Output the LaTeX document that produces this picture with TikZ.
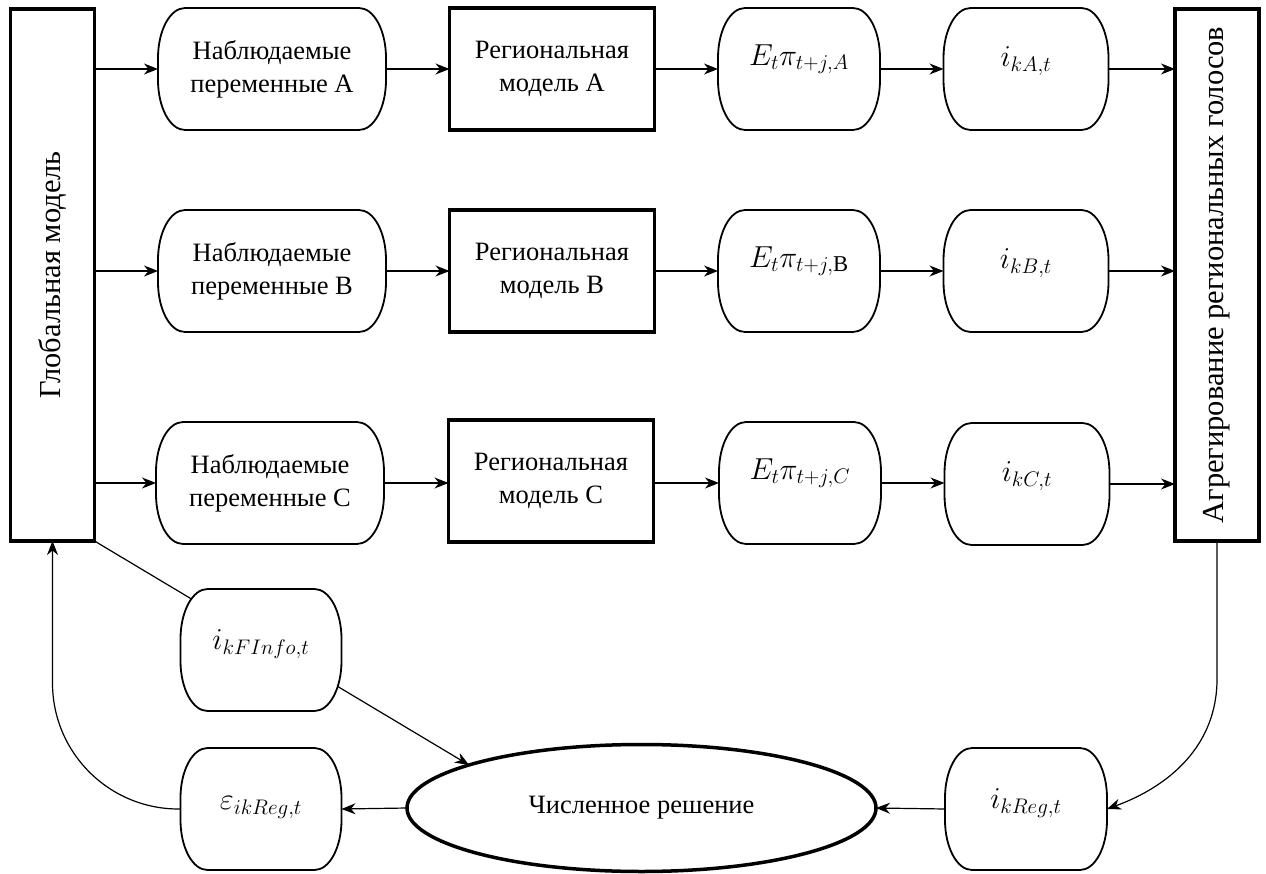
\documentclass[tikz,border=0pt]{standalone}
\usepackage{fontspec}
\setmainfont{Liberation Serif}
\usetikzlibrary{calc,arrows.meta,shapes.geometric}
\pgfdeclarelayer{bg}\pgfdeclarelayer{mid}\pgfsetlayers{bg,mid,main}
\newcommand\CapRx{27pt}
\newcommand\CapRy{50pt}
\newcommand\mymath[2]{\raisebox{#1}{\scalebox{1.22}{$#2$}}}
\newcommand\capsule[1]{%
  \begin{pgfonlayer}{mid}
  \draw[capline] ($(#1.north west)+(\CapRx,0)$) -- ($(#1.north east)+(-\CapRx,0)$)
    arc[start angle=90,end angle=0,x radius=\CapRx,y radius=\CapRy]
    -- ($(#1.south east)+(0,\CapRy)$)
    arc[start angle=0,end angle=-90,x radius=\CapRx,y radius=\CapRy]
    -- ($(#1.south west)+(\CapRx,0)$)
    arc[start angle=270,end angle=180,x radius=\CapRx,y radius=\CapRy]
    -- ($(#1.north west)+(0,-\CapRy)$)
    arc[start angle=180,end angle=90,x radius=\CapRx,y radius=\CapRy] -- cycle;
  \end{pgfonlayer}}
\tikzset{
  txt/.style={font=\fontsize{26.5}{33}\selectfont, align=center, inner sep=0pt, outer sep=0pt},
  rot/.style={font=\fontsize{30.5}{36}\selectfont},
  capline/.style={draw=black, fill=white, line width=1.8pt},
  capnode/.style={txt, minimum height=122pt},
  bigbox/.style={txt, draw, line width=3.5pt, minimum width=84pt, minimum height=532pt},
  regbox/.style={txt, draw, line width=3.5pt, minimum width=205pt, minimum height=122pt},
  solver/.style={txt, ellipse, draw, line width=3.5pt, fill=white, minimum width=469pt, minimum height=127pt},
  arr/.style={line width=1.2pt, -{Stealth[length=14pt,width=11pt,inset=4.5pt]}}
}
\begin{document}
\begin{tikzpicture}[x=1pt,y=-1pt]
\useasboundingbox (0,0) rectangle (1266,874);

% big side boxes
\node[bigbox, rot] (global) at (52.5,275) {\rotatebox{90}{Глобальная модель}};
\node[bigbox, rot] (agg) at (1217,275) {\rotatebox{90}{Агрегирование региональных голосов}};

% row A
\node[capnode, minimum width=228pt] (obsA) at (272,69) {Наблюдаемые\\переменные А};
\node[regbox] (regA) at (552,69) {Региональная\\модель А};
\node[capnode, minimum width=162pt] (EA) at (799,69) {\mymath{28pt}{E_t\pi_{t+j,A}}};
\node[capnode, minimum width=165pt] (iA) at (1026,69) {\mymath{24pt}{i_{kA,t}}};

% row B
\node[capnode, minimum width=228pt] (obsB) at (272,271) {Наблюдаемые\\переменные B};
\node[regbox] (regB) at (552,271) {Региональная\\модель B};
\node[capnode, minimum width=162pt] (EB) at (799,271) {\mymath{28pt}{E_t\pi_{t+j,\mathrm{B}}}};
\node[capnode, minimum width=165pt] (iB) at (1026,271) {\mymath{24pt}{i_{kB,t}}};

% row C
\node[capnode, minimum width=228pt] (obsC) at (270,483) {Наблюдаемые\\переменные С};
\node[regbox] (regC) at (551,481) {Региональная\\модель С};
\node[capnode, minimum width=162pt] (EC) at (800,483) {\mymath{28pt}{E_t\pi_{t+j,C}}};
\node[capnode, minimum width=165pt] (iC) at (1027,484) {\mymath{24pt}{i_{kC,t}}};

% bottom
\node[solver] (solve) at (641.5,808) {Численное решение};
\node[capnode, minimum width=161pt] (info) at (261,650) {\mymath{20pt}{i_{kFInfo,t}}};
\node[capnode, minimum width=161pt] (eps) at (261,809) {\mymath{12pt}{\varepsilon_{ikReg,t}}};
\node[capnode, minimum width=162pt] (ireg) at (1026,809) {\mymath{20pt}{i_{kReg,t}}};

\foreach \n in {obsA,EA,iA,obsB,EB,iB,obsC,EC,iC,info,eps,ireg} {\capsule{\n}}

% row connectors
\foreach \r in {A,B,C} {
  \draw[arr] (global.east |- obs\r.west) -- (obs\r.west);
  \draw[arr] (obs\r.east) -- (obs\r.east -| reg\r.west);
  \draw[arr] (reg\r.east |- E\r.west) -- (E\r.west);
  \draw[arr] (E\r.east) -- (E\r.east -| i\r.west);
  \draw[arr] (i\r.east) -- (i\r.east -| agg.west);
}

% bottom connectors
\begin{pgfonlayer}{bg}
\draw[arr] (global.south east) -- (solve.166);
\end{pgfonlayer}
\draw[arr] (solve.west) -- (eps.east);
\draw[arr] (ireg.west) -- (solve.east);
\draw[arr, rounded corners=126pt] (eps.west) -| (global.south);
\draw[arr] (agg.south) -- ++(0,138) to[out=-90,in=20] (ireg.east);
\end{tikzpicture}
\end{document}
